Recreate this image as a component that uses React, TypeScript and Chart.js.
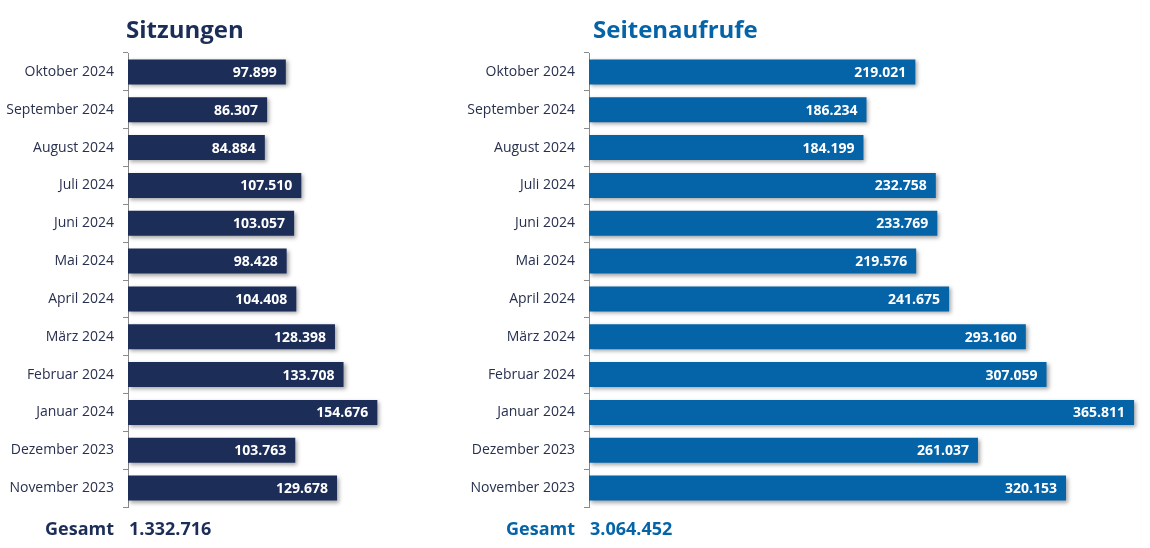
import React, { useEffect, useRef } from "react";
import { Chart, registerables } from "chart.js";

Chart.register(...registerables);

const months = [
  "Oktober 2024",
  "September 2024",
  "August 2024",
  "Juli 2024",
  "Juni 2024",
  "Mai 2024",
  "April 2024",
  "März 2024",
  "Februar 2024",
  "Januar 2024",
  "Dezember 2023",
  "November 2023",
];

const sitzungen = [97899, 86307, 84884, 107510, 103057, 98428, 104408, 128398, 133708, 154676, 103763, 129678];
const seitenaufrufe = [219021, 186234, 184199, 232758, 233769, 219576, 241675, 293160, 307059, 365811, 261037, 320153];

const NAVY = "#1c2d58";
const BLUE = "#0563a8";
const FONT = "'Open Sans', sans-serif";

const fmt = (v: number) => String(v).replace(/\B(?=(\d{3})+(?!\d))/g, ".");

const shadowPlugin = {
  id: "barShadow",
  beforeDatasetsDraw(chart: any) {
    const ctx = chart.ctx;
    ctx.save();
    ctx.shadowColor = "rgba(0,0,0,0.35)";
    ctx.shadowBlur = 4;
    ctx.shadowOffsetX = 2;
    ctx.shadowOffsetY = 2;
  },
  afterDatasetsDraw(chart: any) {
    const ctx = chart.ctx;
    ctx.restore();
    const meta = chart.getDatasetMeta(0);
    const data = chart.data.datasets[0].data as number[];
    ctx.save();
    ctx.fillStyle = "#ffffff";
    ctx.font = `bold 14px ${FONT}`;
    ctx.textAlign = "right";
    ctx.textBaseline = "middle";
    meta.data.forEach((bar: any, i: number) => {
      ctx.fillText(fmt(data[i]), bar.x - 9, bar.y + 1);
    });
    ctx.restore();
  },
};

function BarPanel(props: {
  left: number;
  width: number;
  axisWidth: number;
  max: number;
  values: number[];
  color: string;
  title: string;
  titleX: number;
}) {
  const ref = useRef<HTMLCanvasElement | null>(null);
  useEffect(() => {
    if (!ref.current) return;
    const chart = new Chart(ref.current, {
      type: "bar",
      data: {
        labels: months,
        datasets: [
          {
            data: props.values,
            backgroundColor: props.color,
            barPercentage: 0.66,
            categoryPercentage: 1,
          },
        ],
      },
      options: {
        indexAxis: "y",
        animation: false,
        responsive: false,
        maintainAspectRatio: false,
        layout: { padding: { top: 53, bottom: 41, left: 0, right: 0 } },
        plugins: { legend: { display: false }, tooltip: { enabled: false }, title: { display: false } },
        scales: {
          x: { display: false, min: 0, max: props.max },
          y: {
            afterFit: (axis: any) => {
              axis.width = props.axisWidth;
            },
            grid: {
              drawOnChartArea: false,
              drawTicks: true,
              tickLength: 5,
              color: "#8a8a8a",
              offset: true,
            },
            border: { display: true, color: "#8a8a8a", width: 1 },
            ticks: {
              padding: 9,
              color: "#28304f",
              font: { family: FONT, size: 14 },
            },
          },
        },
      },
      plugins: [shadowPlugin],
    });
    return () => chart.destroy();
  }, []);

  const total = props.values.reduce((a, b) => a + b, 0);
  const axisX = props.left + props.axisWidth;

  return (
    <>
      <canvas
        ref={ref}
        width={props.width}
        height={548}
        style={{ position: "absolute", left: props.left, top: 0, width: props.width, height: 548 }}
      />
      <div
        style={{
          position: "absolute",
          left: props.titleX,
          top: 17,
          font: `bold 24px ${FONT}`,
          lineHeight: "24px",
          color: props.color,
          whiteSpace: "nowrap",
        }}
      >
        {props.title}
      </div>
      <div
        style={{
          position: "absolute",
          left: axisX - 214,
          width: 200,
          textAlign: "right",
          top: 519,
          font: `bold 18px ${FONT}`,
          lineHeight: "18px",
          color: props.color,
          whiteSpace: "nowrap",
        }}
      >
        Gesamt
      </div>
      <div
        style={{
          position: "absolute",
          left: axisX + 1,
          top: 519,
          font: `bold 18px ${FONT}`,
          lineHeight: "18px",
          color: props.color,
          whiteSpace: "nowrap",
        }}
      >
        {fmt(total)}
      </div>
    </>
  );
}

export default function App() {
  return (
    <div
      style={{
        position: "absolute",
        left: 0,
        top: 0,
        width: 1150,
        height: 548,
        background: "#ffffff",
        overflow: "hidden",
      }}
    >
      <BarPanel left={0} width={450} axisWidth={128} max={199750} values={sitzungen} color={NAVY} title="Sitzungen" titleX={126} />
      <BarPanel left={460} width={690} axisWidth={129} max={376500} values={seitenaufrufe} color={BLUE} title="Seitenaufrufe" titleX={593} />
    </div>
  );
}
